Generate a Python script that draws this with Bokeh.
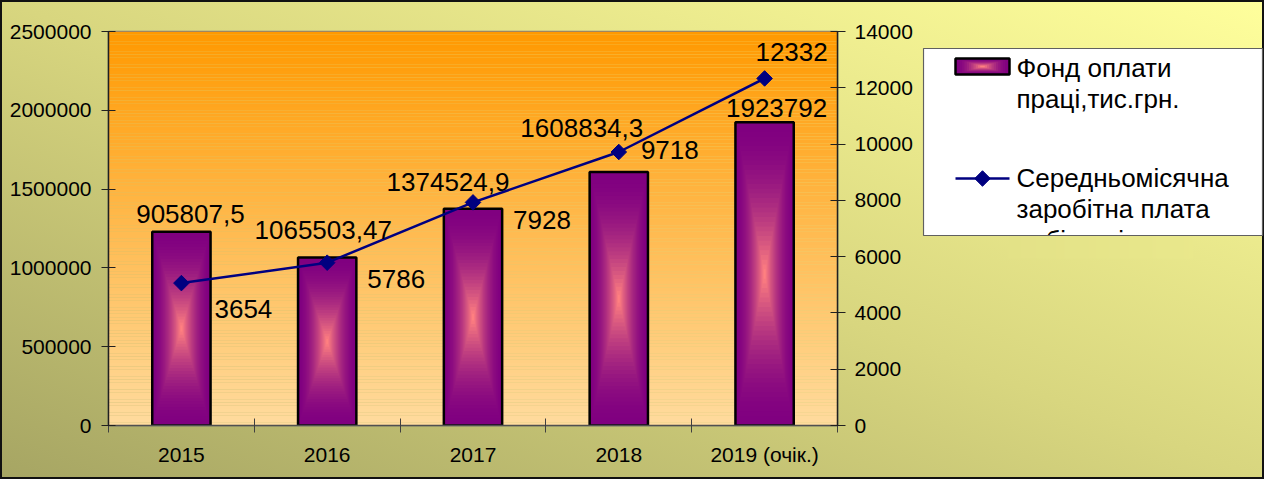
import numpy as np
from bokeh.plotting import figure
from bokeh.layouts import row
from bokeh.models import Range1d, LinearAxis, FixedTicker, BasicTickFormatter
from bokeh.core.properties import value
from bokeh.embed import file_html
from bokeh.resources import INLINE

# ---- data ----
categories = ["2015", "2016", "2017", "2018", "2019 (очік.)"]
fund_values = [1230000, 1065503.47, 1374524.9, 1608834.3, 1923792]
fund_labels = ["905807,5", "1065503,47", "1374524,9", "1608834,3", "1923792"]
wage_values = [5060, 5786, 7928, 9718, 12332]
wage_labels = ["3654", "5786", "7928", "9718", "12332"]
left_ticks = [0, 500000, 1000000, 1500000, 2000000, 2500000]
right_ticks = [0, 2000, 4000, 6000, 8000, 10000, 12000, 14000]
legend_fund = ["Фонд оплати", "праці,тис.грн."]
legend_wage = ["Середньомісячна", "заробітна плата", "робітників"]

FONT = "Liberation Sans"
PURPLE = (128, 0, 128)
PINK = (255, 128, 128)
NAVY = "#000080"
W, H = 1264, 479
BG_STOPS = [(0.0, (166, 165, 99)), (0.5, (216, 214, 127)), (1.0, (255, 255, 156))]


def mix(c1, c2, t):
    r, g, b = (int(round(a + (b_ - a) * t)) for a, b_ in zip(c1, c2))
    return "#%02x%02x%02x" % (r, g, b)


def bg_color(px, py):
    # colour of the CSS "to top right" background at page pixel (px, py)
    x, y = px - 8, py - 8
    t = min(max(x / (2 * W) + (H - y) / (2 * H), 0), 1)
    for (t0, c0), (t1, c1) in zip(BG_STOPS[:-1], BG_STOPS[1:]):
        if t <= t1:
            return mix(c0, c1, (t - t0) / (t1 - t0))
    return mix(BG_STOPS[-1][1], BG_STOPS[-1][1], 0)


xpos = [i + 0.5 for i in range(len(categories))]

# ---------------- main chart ----------------
p = figure(width=922, height=H, x_range=Range1d(0, 5), y_range=Range1d(0, 2500000),
           output_backend="svg", toolbar_location=None,
           min_border_left=108, min_border_right=85, min_border_top=31, min_border_bottom=54,
           border_fill_color=None, background_fill_color=None,
           outline_line_color="#808080", outline_line_width=1.5)
p.grid.visible = False
p.extra_y_ranges = {"wage": Range1d(0, 14000), "py": Range1d(433, 39)}
p.extra_x_ranges = {"px": Range1d(116, 845)}

# plot-area vertical gradient (decoration)
nb = 120
edges = np.linspace(39, 433, nb + 1)
top_c, bot_c = (255, 153, 0), (255, 219, 158)
p.quad(left=116, right=845, top=edges[:-1], bottom=edges[1:],
       fill_color=[mix(top_c, bot_c, (i + 0.5) / nb) for i in range(nb)],
       line_color=None, x_range_name="px", y_range_name="py")

# axes
xa = p.xaxis[0]
xa.ticker = FixedTicker(ticks=xpos, minor_ticks=list(range(len(categories) + 1)))
xa.major_label_overrides = {x: c for x, c in zip(xpos, categories)}
xa.major_tick_line_color = None
xa.minor_tick_in = 7
xa.minor_tick_out = 7
xa.minor_tick_line_color = "#404040"
xa.axis_line_color = "#505050"
xa.axis_line_width = 1.5
xa.major_label_standoff = 10

ya = p.yaxis[0]
ya.ticker = FixedTicker(ticks=left_ticks)
ya.formatter = BasicTickFormatter(use_scientific=False)
ya.minor_tick_line_color = None
ya.major_tick_in = 7
ya.major_tick_out = 7
ya.major_label_standoff = 10

ra = LinearAxis(y_range_name="wage", ticker=FixedTicker(ticks=right_ticks))
ra.minor_tick_line_color = None
ra.major_tick_in = 7
ra.major_tick_out = 8
ra.major_label_standoff = 9
p.add_layout(ra, "right")

for ax in (xa, ya, ra):
    ax.major_label_text_font = FONT
    ax.major_label_text_font_size = "21px"
    ax.major_label_text_color = "#000000"
for ax in (ya, ra):
    ax.axis_line_color = "#202020"
    ax.axis_line_width = 1.5
    ax.major_tick_line_color = "#202020"
    ax.major_tick_line_width = 1.2

# bars with rectangular "from centre" gradient
N = 32
bw = 0.4
for k in range(N):
    t = k / N
    col = mix(PURPLE, PINK, (k / (N - 1)) ** 1.8)
    p.vbar(x=xpos, width=bw * (1 - t),
           bottom=[v * t / 2 for v in fund_values],
           top=[v * (1 - t / 2) for v in fund_values],
           fill_color=col, line_color=None)
p.vbar(x=xpos, width=bw, top=fund_values, fill_color=None, line_color="black", line_width=2.5)

# line series
p.line(xpos, wage_values, y_range_name="wage", line_color=NAVY, line_width=2.5)
p.scatter(xpos, wage_values, y_range_name="wage", marker="square", angle=np.pi / 4,
          size=11, fill_color=NAVY, line_color=NAVY)

# data labels
p.text(x=xpos, y=fund_values, text=fund_labels,
       x_offset=[9, -4, -25, -37, 12], y_offset=[-18, -28, -27, -44, -14],
       text_align="center", text_baseline="middle",
       text_font=value(FONT), text_font_size="26px", text_color="#000000")
p.text(x=xpos, y=wage_values, text=wage_labels, y_range_name="wage",
       x_offset=[62, 69, 69, 51, 27], y_offset=[26, 16, 18, -2, -26],
       text_align="center", text_baseline="middle",
       text_font=value(FONT), text_font_size="26px", text_color="#000000")

# ---------------- legend panel (page-pixel coordinates) ----------------
leg = figure(width=342, height=H, x_range=Range1d(930, 1272), y_range=Range1d(433, 39),
             output_backend="svg", toolbar_location=None,
             x_axis_location=None, y_axis_location=None,
             min_border_left=0, min_border_right=0, min_border_top=31, min_border_bottom=54,
             border_fill_color=None, background_fill_color=None, outline_line_color=None)
leg.grid.visible = False
leg.quad(left=[931], right=[1270], top=[56], bottom=[243], fill_color="white",
         line_color=None)
M = 12
for k in range(M):
    t = k / M
    hw, hh = 27 * (1 - t), 8 * (1 - t)
    leg.quad(left=[990 - hw], right=[990 + hw], top=[74 - hh], bottom=[74 + hh],
             fill_color=mix(PURPLE, PINK, (k / (M - 1)) ** 1.8), line_color=None)
leg.quad(left=[963], right=[1017], top=[66], bottom=[82], fill_color=None,
         line_color="black", line_width=2.5)
leg.line(x=[963, 1017], y=[186, 186], line_color=NAVY, line_width=2.5)
leg.scatter(x=[990], y=[186], marker="square", angle=np.pi / 4, size=11,
            fill_color=NAVY, line_color=NAVY)
leg.text(x=[1024] * 5, y=[75, 106, 185, 216, 247], text=legend_fund + legend_wage,
         text_align="left", text_baseline="middle",
         text_font=value(FONT), text_font_size="26px", text_color="#000000")
# the legend box clips its last line: cover what lies below the box with the background
sx = np.arange(1016, 1200, 4)
leg.quad(left=sx, right=sx + 4.6, top=243, bottom=266,
         fill_color=[bg_color(x + 2, 254) for x in sx], line_color=None)
leg.quad(left=[931], right=[1270], top=[56], bottom=[243], fill_color=None,
         line_color="#606060", line_width=1.2)

layout = row(p, leg)
layout.styles = {
    "background": "linear-gradient(to top right, #a6a563 0%, #d8d67f 50%, #ffff9c 100%)",
    "outline": "2px solid #111111", "outline-offset": "-2px",
    "width": "%dpx" % W, "height": "%dpx" % H}

open("out.html", "w").write(file_html(layout, INLINE))
